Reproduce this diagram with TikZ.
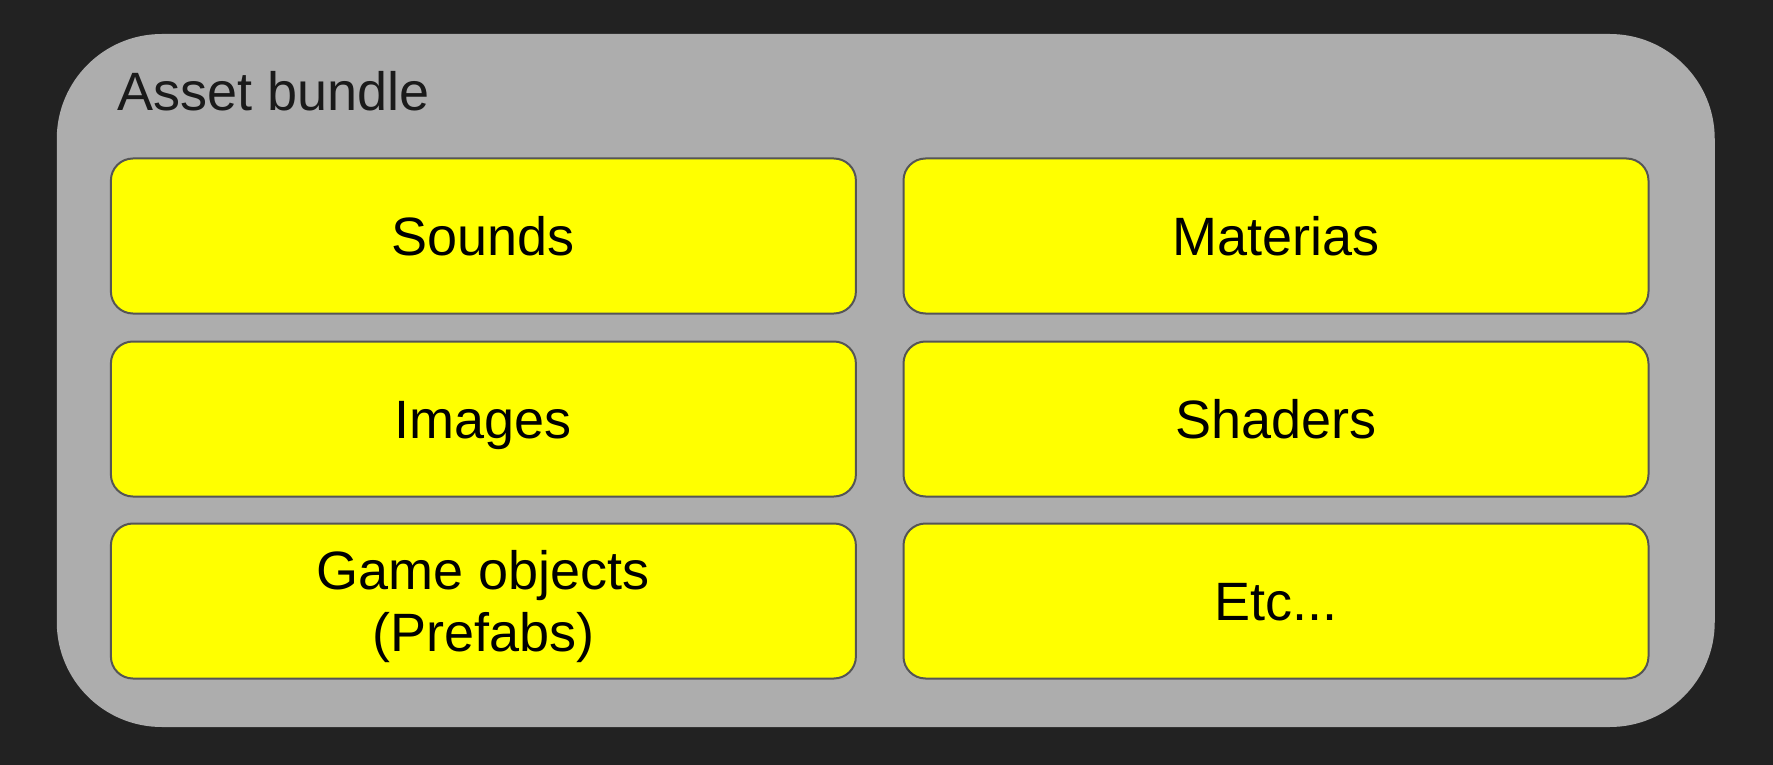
\documentclass[tikz,border=0pt]{standalone}
\usepackage{fontspec}
\setmainfont{Liberation Sans}
\definecolor{bgdark}{HTML}{222222}
\definecolor{bundlefill}{HTML}{ADADAD}
\definecolor{itemfill}{HTML}{FFFF00}
\definecolor{itemline}{HTML}{555555}
\definecolor{titletext}{HTML}{1A1A1A}
\begin{document}
\begin{tikzpicture}[x=1pt,y=-1pt,
  item/.style={draw=itemline, line width=2pt, fill=itemfill, rounded corners=22pt,
    minimum width=745pt, minimum height=155pt, inner sep=0pt, align=center,
    font=\fontsize{54}{62}\selectfont, text=black, text height=39pt, text depth=0pt},
  bundle/.style={fill=bundlefill, rounded corners=105pt, minimum width=1658pt,
    minimum height=693pt, inner sep=0pt}]
\fill[bgdark] (0,0) rectangle (1773,765);
\useasboundingbox (0,0) rectangle (1773,765);
\node[bundle] (outer) at (885.75,380.5) {};
\node[anchor=base west, font=\fontsize{54}{62}\selectfont, text=titletext, inner sep=0pt] (title) at (117,111) {Asset bundle};
\node[item] (sounds) at (483.4,236) {Sounds};
\node[item] (materias) at (1276,236) {Materias};
\node[item] (images) at (483.4,419) {Images};
\node[item] (shaders) at (1276,419) {Shaders};
\node[item, text height=101pt] (game) at (483.4,601) {Game objects\\(Prefabs)};
\node[item] (etc) at (1276,601) {Etc...};
\end{tikzpicture}
\end{document}
